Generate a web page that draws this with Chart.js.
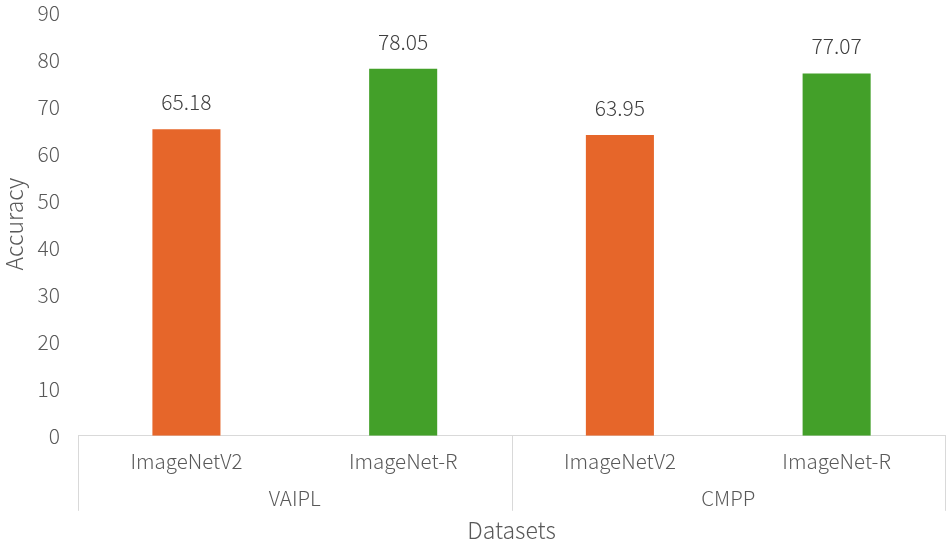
<!DOCTYPE html>
<html>
<head>
<meta charset="utf-8">
<script src="https://cdn.jsdelivr.net/npm/chart.js@4.4.1/dist/chart.umd.min.js"></script>
<style>
  html, body { margin: 0; padding: 0; background: #fff; }
  #wrap { width: 950px; height: 544px; }
</style>
</head>
<body>
<div id="wrap"><canvas id="accChart"></canvas></div>
<script>
// data
const categories = ['ImageNetV2', 'ImageNet-R', 'ImageNetV2', 'ImageNet-R'];
const groups = ['VAIPL', 'CMPP'];
const groupSize = 2;
const accuracy = [65.18, 78.05, 63.95, 77.07];
const barColors = ['#E6662A', '#43A029', '#E6662A', '#43A029'];
const yTicks = [0, 10, 20, 30, 40, 50, 60, 70, 80, 90];

const FONT = "'Noto Sans CJK SC', 'Noto Sans', sans-serif";
const TEXT = '#595959';
const LINE = '#d9d9d9';

// value labels above each bar
const valueLabels = {
    id: 'valueLabels',
    afterDatasetsDraw(chart) {
        const { ctx } = chart;
        const meta = chart.getDatasetMeta(0);
        ctx.save();
        ctx.font = `300 21px ${FONT}`;
        ctx.fillStyle = '#404040';
        ctx.textAlign = 'center';
        ctx.textBaseline = 'middle';
        meta.data.forEach((bar, i) => {
            ctx.fillText(accuracy[i].toFixed(2), bar.x, bar.y - 27);
        });
        ctx.restore();
    }
};

// second row of x labels (groups) with separator lines
const groupAxis = {
    id: 'groupAxis',
    afterDraw(chart) {
        const { ctx, chartArea } = chart;
        const x = chart.scales.x;
        const lineBottom = x.top + 75;
        ctx.save();
        ctx.strokeStyle = LINE;
        ctx.lineWidth = 1;
        const bounds = [chartArea.left];
        for (let g = 1; g < groups.length; g++) {
            const i = g * groupSize;
            bounds.push((x.getPixelForValue(i - 1) + x.getPixelForValue(i)) / 2);
        }
        bounds.push(chartArea.right);
        bounds.forEach(bx => {
            const px = Math.round(bx) + 0.5;
            ctx.beginPath();
            ctx.moveTo(px, chartArea.bottom);
            ctx.lineTo(px, lineBottom);
            ctx.stroke();
        });
        ctx.font = `300 20.5px ${FONT}`;
        ctx.fillStyle = TEXT;
        ctx.textAlign = 'center';
        ctx.textBaseline = 'middle';
        groups.forEach((name, g) => {
            ctx.fillText(name, (bounds[g] + bounds[g + 1]) / 2, x.top + 62);
        });
        ctx.restore();
    }
};

new Chart(document.getElementById('accChart'), {
    type: 'bar',
    data: {
        labels: categories,
        datasets: [{
            data: accuracy,
            backgroundColor: barColors,
            borderWidth: 0,
            categoryPercentage: 1,
            barPercentage: 0.314
        }]
    },
    options: {
        responsive: true,
        maintainAspectRatio: false,
        animation: false,
        layout: { padding: { top: 0, right: 5, bottom: 0, left: 0 } },
        plugins: {
            legend: { display: false },
            tooltip: { enabled: false }
        },
        scales: {
            x: {
                grid: { display: false, drawTicks: false },
                border: { color: LINE, width: 1 },
                ticks: {
                    color: TEXT,
                    padding: 13,
                    font: { family: FONT, size: 20.5, weight: 300 }
                },
                title: {
                    display: true,
                    text: 'Datasets',
                    color: TEXT,
                    padding: { top: 30, bottom: 0 },
                    font: { family: FONT, size: 23, weight: 300 }
                }
            },
            y: {
                min: 0,
                max: 90,
                afterBuildTicks(scale) {
                    scale.ticks = yTicks.map(v => ({ value: v }));
                },
                // invisible tick marks give the gap to the labels
                grid: { display: false, drawTicks: true, tickLength: 18 },
                border: { display: false },
                ticks: {
                    color: TEXT,
                    padding: 0,
                    font: { family: FONT, size: 21, weight: 300 }
                },
                title: {
                    display: true,
                    text: 'Accuracy',
                    color: TEXT,
                    padding: { top: 0, bottom: 10 },
                    font: { family: FONT, size: 23, weight: 300 }
                }
            }
        }
    },
    plugins: [valueLabels, groupAxis]
});
</script>
</body>
</html>
